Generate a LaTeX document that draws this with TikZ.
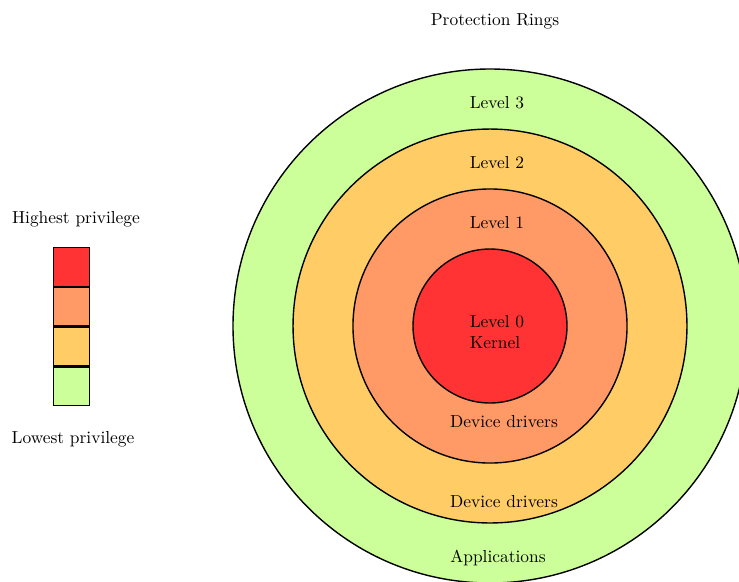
\documentclass[tikz,border=0pt]{standalone}
\usepackage{tikz}
\usetikzlibrary{positioning}

\definecolor{ringzero}{HTML}{FF3333}
\definecolor{ringone}{HTML}{FF9966}
\definecolor{ringtwo}{HTML}{FFCC66}
\definecolor{ringthree}{HTML}{CCFF99}

\begin{document}
\begin{tikzpicture} [x=0.5747pt, y=-0.5747pt,
        ring/.style={circle, draw=black, thick, inner sep=0pt},
        legendbox/.style={rectangle, draw=black, thick, inner sep=0pt,
          minimum width=20.8pt, minimum height=22.1pt},
        lbl/.style={inner sep=1pt, font=\normalsize}]
        \clip (0,0) rectangle (739,581);
        \coordinate (centre) at (490,326);
        % rings, outermost first
        \node[ring, fill=ringthree, minimum size=295.4pt] (ring3) at (centre) {};
        \node[ring, fill=ringtwo, minimum size=226.4pt] (ring2) at (centre) {};
        \node[ring, fill=ringone, minimum size=157.5pt] (ring1) at (centre) {};
        \node[ring, fill=ringzero, minimum size=88.5pt] (ring0) at (centre) {};

        \node[lbl] (title) at (495,21) {Protection Rings};
        \node[lbl] (level3) at (497,103) {Level 3};
        \node[lbl] (level2) at (497,163) {Level 2};
        \node[lbl] (level1) at (497,223) {Level 1};
        \node[lbl, align=left] (level0) at (497,332) {Level 0\\Kernel};
        \node[lbl] (drivers1) at (504,422) {Device drivers};
        \node[lbl] (drivers2) at (504,502) {Device drivers};
        \node[lbl] (apps) at (498,558) {Applications};

        % legend
        \node[lbl] (highest) at (76,219) {Highest privilege};
        \node[legendbox, fill=ringzero] (box0) at (71.5,267) {};
        \node[legendbox, fill=ringone, below=0pt of box0] (box1) {};
        \node[legendbox, fill=ringtwo, below=0pt of box1] (box2) {};
        \node[legendbox, fill=ringthree, below=0pt of box2] (box3) {};
        \node[lbl] (lowest) at (73,439) {Lowest privilege};
      \end{tikzpicture}
\end{document}
